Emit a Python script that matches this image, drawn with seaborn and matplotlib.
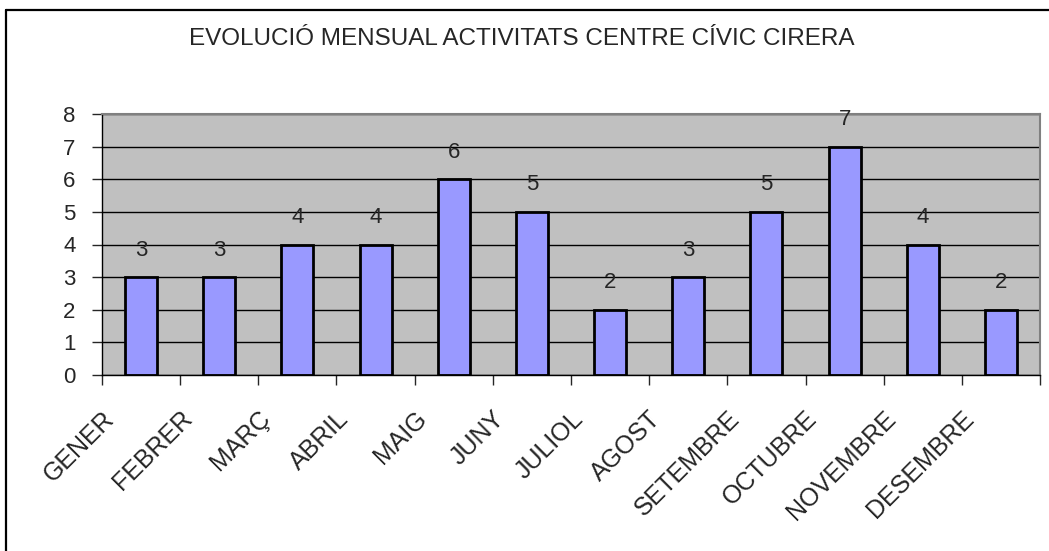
import matplotlib
matplotlib.use("Agg")
import matplotlib.pyplot as plt
import matplotlib.transforms as mtransforms
import pandas as pd
import seaborn as sns
from matplotlib.lines import Line2D

TITLE = "EVOLUCIÓ MENSUAL ACTIVITATS CENTRE CÍVIC CIRERA"
MONTHS = ["GENER", "FEBRER", "MARÇ", "ABRIL", "MAIG", "JUNY",
          "JULIOL", "AGOST", "SETEMBRE", "OCTUBRE", "NOVEMBRE", "DESEMBRE"]
ACTIVITIES = [3, 3, 4, 4, 6, 5, 2, 3, 5, 7, 4, 2]
Y_TICKS = [0, 1, 2, 3, 4, 5, 6, 7, 8]

BAR_COLOR = "#9999FF"
PLOT_BG = "#C0C0C0"

sns.set_style("white")
plt.rcParams["font.family"] = ["Liberation Sans", "DejaVu Sans"]

df = pd.DataFrame({"mes": MONTHS, "activitats": ACTIVITIES})

fig = plt.figure(figsize=(10.49, 5.51), dpi=100)
ax = fig.add_axes([102 / 1049, 1 - 375 / 551, 938 / 1049, 261 / 551])

# top and left edge of the chart frame
fig.lines.append(Line2D([6 / 1049, 1], [1 - 9.5 / 551, 1 - 9.5 / 551],
                        transform=fig.transFigure, color="black", linewidth=1.6))
fig.lines.append(Line2D([6 / 1049, 6 / 1049], [0, 1 - 9.5 / 551],
                        transform=fig.transFigure, color="black", linewidth=1.6))

ax.set_facecolor(PLOT_BG)
ax.set_axisbelow(True)
ax.yaxis.grid(True, color="black", linewidth=1.0)

sns.barplot(data=df, x="mes", y="activitats", color=BAR_COLOR, width=0.41,
            edgecolor="black", linewidth=2.0, saturation=1, ax=ax)

for x, v in enumerate(ACTIVITIES):
    ax.annotate(str(v), (x, v), xytext=(0, 19.5), textcoords="offset points",
                ha="center", va="center", fontsize=16)

ax.set_ylim(0, 8)
ax.set_xlim(-0.5, len(MONTHS) - 0.5)
ax.set_yticks(Y_TICKS)
ax.set_yticklabels([str(t) for t in Y_TICKS], fontsize=16)
ax.tick_params(axis="y", length=7, width=1, direction="out", left=True, pad=12)

ax.set_xticks(range(len(MONTHS)))
ax.set_xticklabels(MONTHS, rotation=45, ha="right", va="center",
                   rotation_mode="anchor", fontsize=18)
ax.tick_params(axis="x", length=0, pad=0)
# Excel puts the end of each slanted label a little left of the category centre
shift = mtransforms.ScaledTranslation(-0.31, -0.40, fig.dpi_scale_trans)
for label in ax.get_xticklabels():
    label.set_transform(label.get_transform() + shift)
ax.set_xticks([i - 0.5 for i in range(len(MONTHS) + 1)], minor=True)
ax.tick_params(axis="x", which="minor", length=7, width=1, direction="out", bottom=True)

ax.set_xlabel("")
ax.set_ylabel("")

for side in ["top", "right"]:
    ax.spines[side].set_color("#808080")
    ax.spines[side].set_linewidth(1.5)
for side in ["left", "bottom"]:
    ax.spines[side].set_color("black")
    ax.spines[side].set_linewidth(1.0)

fig.text(522 / 1049, 1 - 39 / 551, TITLE, ha="center", va="center", fontsize=17.5)

fig.savefig("out.png", dpi=100)
